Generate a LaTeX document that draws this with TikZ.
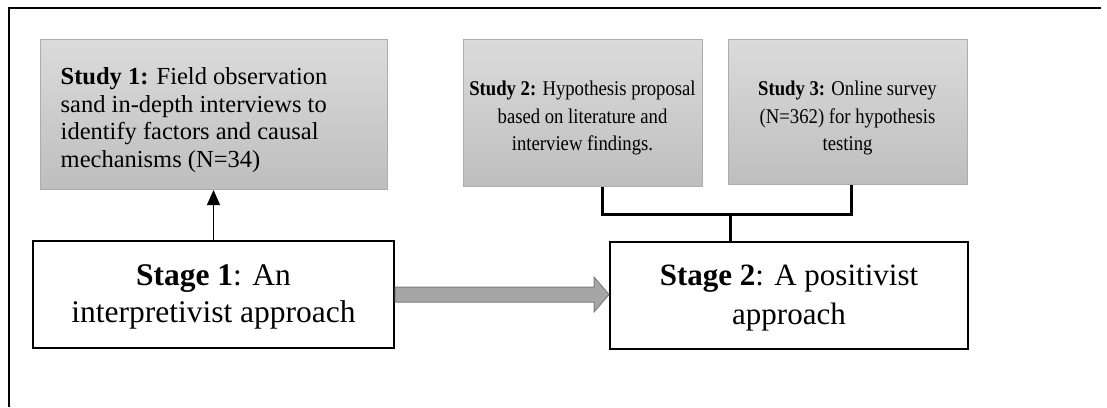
\documentclass[tikz,border=0pt]{standalone}
\usepackage{fontspec}
\setmainfont{Liberation Serif}
\newfontfamily\studyonefont{Liberation Serif}
\newfontfamily\studyfont[FakeStretch=0.89]{Liberation Serif}
\newfontfamily\stagefont{Liberation Serif}
\usetikzlibrary{calc,arrows.meta}

\definecolor{studytop}{RGB}{219,219,219}
\definecolor{studybot}{RGB}{190,190,190}
\definecolor{studyedge}{RGB}{172,172,172}
\definecolor{arrowfill}{RGB}{166,166,166}
\definecolor{arrowedge}{RGB}{125,125,125}

\newcommand{\lines}[2]{\begin{tabular}{@{}#1@{}}#2\end{tabular}}

\tikzset{
  studybox/.style={draw=studyedge, line width=1pt, top color=studytop, bottom color=studybot,
    inner sep=0pt},
  stagebox/.style={draw=black, line width=2pt, fill=white, inner sep=0pt},
  label text/.style={inner sep=0pt},
  bracket/.style={draw=black, line width=3pt},
  blockarrow/.style={draw=arrowedge, line width=1pt, fill=arrowfill, line join=miter},
  pointer/.style={draw=black, line width=1pt, -{Triangle[length=15pt,width=13pt]}},
  frame/.style={draw=black, line width=2pt}
}

\begin{document}
\begin{tikzpicture}[x=1pt,y=-1pt]
  \useasboundingbox (0,0) rectangle (1107,407);

  % outer frame (top and left edges)
  \draw[frame] (9,407) -- (9,8) -- (1101,8);

  % study boxes
  \node[studybox, minimum width=347pt, minimum height=150pt] (st1) at (213.5,114.5) {};
  \node[studybox, minimum width=239pt, minimum height=147pt] (st2) at (582.5,112.5) {};
  \node[studybox, minimum width=239pt, minimum height=145pt] (st3) at (847.5,111.5) {};

  \node[label text, anchor=west] (t1) at ($(st1.west)+(21,6)$)
    {\studyonefont\fontsize{24.5}{27.5}\selectfont
     \lines{l}{\textbf{Study 1:} Field observation\\sand in-depth interviews to\\identify factors and causal\\mechanisms (N=34)}};
  \node[label text] (t2) at ($(st2.center)+(0,5)$)
    {\studyfont\fontsize{21}{27.5}\selectfont
     \lines{c}{\textbf{Study 2:} Hypothesis proposal\\based on literature and\\interview findings.}};
  \node[label text] (t3) at ($(st3.center)+(0,6)$)
    {\studyfont\fontsize{21}{27.5}\selectfont
     \lines{c}{\textbf{Study 3:} Online survey\\(N=362) for hypothesis\\testing}};

  % stage boxes
  \node[stagebox, minimum width=361pt, minimum height=107pt] (s1) at (213.5,294.5) {};
  \node[stagebox, minimum width=358pt, minimum height=107pt] (s2) at (789,295.5) {};

  \node[label text] (t4) at ($(s1.center)+(0,2.5)$)
    {\stagefont\fontsize{31.5}{37}\selectfont
     \lines{c}{\textbf{Stage 1}: An\\interpretivist approach}};
  \node[label text] (t5) at ($(s2.center)+(0,2)$)
    {\stagefont\fontsize{31}{39}\selectfont
     \lines{c}{\textbf{Stage 2}: A positivist\\approach}};

  % stage 1 leads to study 1
  \draw[pointer] (s1.north) -- (s1.north |- st1.south);

  % block arrow from stage 1 to stage 2
  \draw[blockarrow]
    ($(s1.east)+(0,-7.5)$) -- ($(s1.east)+(199,-7.5)$) -- ($(s1.east)+(199,-17.5)$)
    -- (s2.west |- s1.east)
    -- ($(s1.east)+(199,17.5)$) -- ($(s1.east)+(199,7.5)$) -- ($(s1.east)+(0,7.5)$) -- cycle;

  % bracket joining studies 2 and 3 to stage 2
  \coordinate (j) at (730,214);
  \draw[bracket] ($(st2.south)+(19.5,0)$) |- (j) -| ($(st3.south)+(3.5,0)$);
  \draw[bracket] (j) -- (j |- s2.north);
\end{tikzpicture}
\end{document}
